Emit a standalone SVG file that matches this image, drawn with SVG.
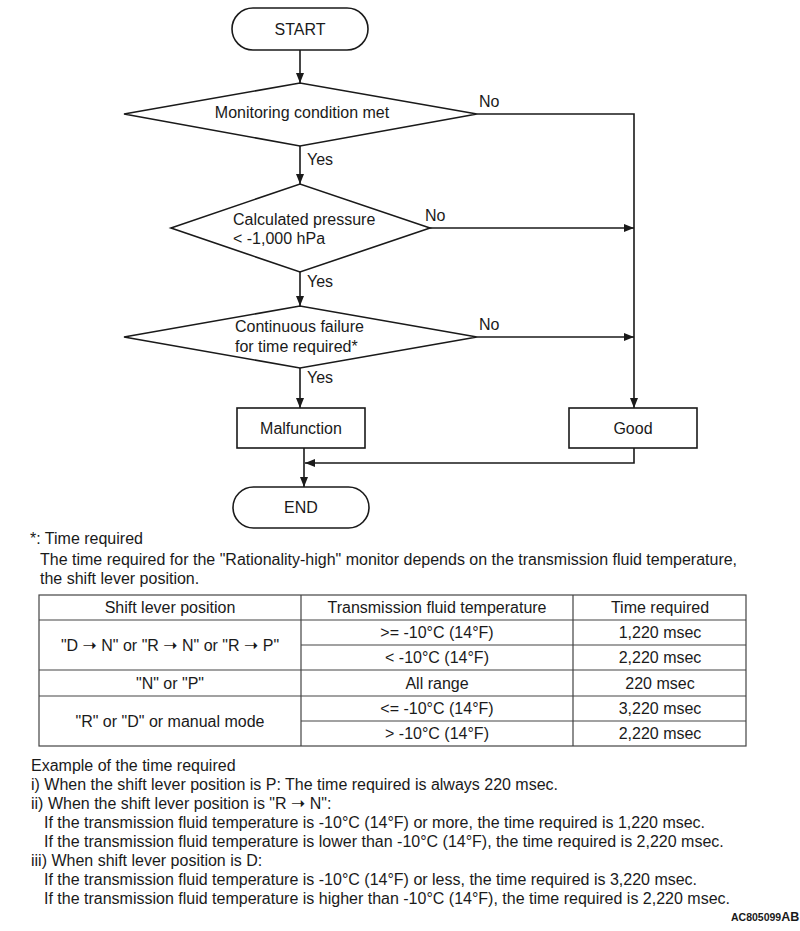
<svg xmlns="http://www.w3.org/2000/svg" width="800" height="931" viewBox="0 0 800 931">
<style>
text{font-family:"Liberation Sans",Arial,sans-serif;font-size:16px;fill:#1a1a1a}
.c{text-anchor:middle}
.ar{font-family:"DejaVu Sans",sans-serif;font-size:17px}
.shape{fill:#fff;stroke:#1a1a1a;stroke-width:1.6}
.conn{fill:none;stroke:#1a1a1a;stroke-width:1.6}
.tbl{fill:none;stroke:#444;stroke-width:1.2}
.id{font-weight:bold;font-size:10.5px}
</style>
<defs>
<marker id="ah" markerUnits="userSpaceOnUse" markerWidth="10" markerHeight="8" refX="10" refY="4" orient="auto">
<path d="M0,0 L10,4 L0,8 z" fill="#1a1a1a"/>
</marker>
</defs>
<rect width="800" height="931" fill="#fff"/>
<g id="connectors">
<path class="conn" d="M300,50 V83" marker-end="url(#ah)"/>
<path class="conn" d="M300,146 V184" marker-end="url(#ah)"/>
<path class="conn" d="M300,272 V306" marker-end="url(#ah)"/>
<path class="conn" d="M300,368 V408" marker-end="url(#ah)"/>
<path class="conn" d="M477,114 H634 V408" marker-end="url(#ah)"/>
<path class="conn" d="M430,228 H634" marker-end="url(#ah)"/>
<path class="conn" d="M477,337 H634" marker-end="url(#ah)"/>
<path class="conn" d="M304,448 V487" marker-end="url(#ah)"/>
<path class="conn" d="M634,448 V463 H305" marker-end="url(#ah)"/>
<text x="479" y="107">No</text>
<text x="307" y="165">Yes</text>
<text x="425" y="221">No</text>
<text x="307" y="287">Yes</text>
<text x="479" y="330">No</text>
<text x="307" y="383">Yes</text>
</g>
<g id="start">
<rect class="shape" x="232" y="8" width="136" height="42" rx="21"/>
<text class="c" x="300" y="35">START</text>
</g>
<g id="d1">
<polygon class="shape" points="124,114 300,83 477,114 300,146"/>
<text class="c" x="302" y="118">Monitoring condition met</text>
</g>
<g id="d2">
<polygon class="shape" points="171,228 300,184 430,228 300,272"/>
<text x="233" y="225">Calculated pressure</text>
<text x="233" y="244">&lt; -1,000 hPa</text>
</g>
<g id="d3">
<polygon class="shape" points="124,337 300,306 477,337 300,368"/>
<text x="235" y="332">Continuous failure</text>
<text x="235" y="352">for time required*</text>
</g>
<g id="malfunction">
<rect class="shape" x="237" y="408" width="128" height="40"/>
<text class="c" x="301" y="434">Malfunction</text>
</g>
<g id="good">
<rect class="shape" x="569" y="408" width="128" height="40"/>
<text class="c" x="633" y="434">Good</text>
</g>
<g id="end">
<rect class="shape" x="233" y="487" width="136" height="41" rx="20.5"/>
<text class="c" x="301" y="513">END</text>
</g>
<g id="note">
<text x="30" y="544">*: Time required</text>
<text x="40" y="565">The time required for the "Rationality-high" monitor depends on the transmission fluid temperature,</text>
<text x="40" y="584">the shift lever position.</text>
</g>
<g id="table">
<rect class="tbl" x="39" y="595" width="707" height="151"/>
<path class="tbl" d="M301,595 V746 M573,595 V746 M39,620 H746 M301,645 H746 M39,670 H746 M39,696 H746 M301,721 H746"/>
<text class="c" x="170" y="613">Shift lever position</text>
<text class="c" x="437" y="613">Transmission fluid temperature</text>
<text class="c" x="660" y="613">Time required</text>
<text class="c" x="170" y="651">"D <tspan class="ar">➝</tspan> N" or "R <tspan class="ar">➝</tspan> N" or "R <tspan class="ar">➝</tspan> P"</text>
<text class="c" x="437" y="638">&gt;= -10°C (14°F)</text>
<text class="c" x="660" y="638">1,220 msec</text>
<text class="c" x="437" y="663">&lt; -10°C (14°F)</text>
<text class="c" x="660" y="663">2,220 msec</text>
<text class="c" x="170" y="689">"N" or "P"</text>
<text class="c" x="437" y="689">All range</text>
<text class="c" x="660" y="689">220 msec</text>
<text class="c" x="170" y="727">"R" or "D" or manual mode</text>
<text class="c" x="437" y="714">&lt;= -10°C (14°F)</text>
<text class="c" x="660" y="714">3,220 msec</text>
<text class="c" x="437" y="739">&gt; -10°C (14°F)</text>
<text class="c" x="660" y="739">2,220 msec</text>
</g>
<g id="examples">
<text x="31" y="771">Example of the time required</text>
<text x="31" y="790">i) When the shift lever position is P: The time required is always 220 msec.</text>
<text x="31" y="809">ii) When the shift lever position is "R <tspan class="ar">➝</tspan> N":</text>
<text x="44" y="828">If the transmission fluid temperature is -10°C (14°F) or more, the time required is 1,220 msec.</text>
<text x="44" y="847">If the transmission fluid temperature is lower than -10°C (14°F), the time required is 2,220 msec.</text>
<text x="31" y="866">iii) When shift lever position is D:</text>
<text x="44" y="885">If the transmission fluid temperature is -10°C (14°F) or less, the time required is 3,220 msec.</text>
<text x="44" y="904">If the transmission fluid temperature is higher than -10°C (14°F), the time required is 2,220 msec.</text>
</g>
<text x="731" y="921" class="id">AC805099<tspan font-size="12.5px">AB</tspan></text>
</svg>
